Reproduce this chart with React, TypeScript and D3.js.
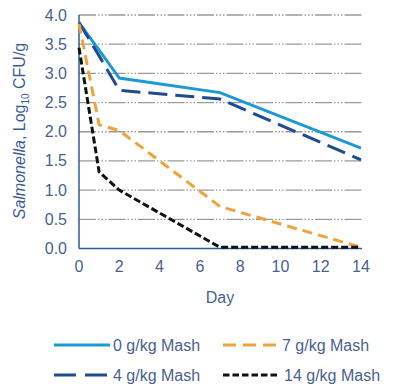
import React from "react";
import * as d3 from "d3";

const days = [0, 1, 2, 7, 14];
const series0 = [3.87, 3.4, 2.92, 2.67, 1.72];
const series4 = [3.87, 3.3, 2.71, 2.56, 1.52];
const series7 = [3.85, 2.12, 2.02, 0.72, 0.02];
const series14 = [3.44, 1.31, 1.0, 0.02, 0.02];
const xTicks = [0, 2, 4, 6, 8, 10, 12, 14];
const yTicks = [0, 0.5, 1, 1.5, 2, 2.5, 3, 3.5, 4];
const legendLabels = ["0 g/kg Mash", "4 g/kg Mash", "7 g/kg Mash", "14 g/kg Mash"];

const W = 400, H = 392;
const x = d3.scaleLinear().domain([0, 14]).range([79, 361]);
const y = d3.scaleLinear().domain([0, 4]).range([248.5, 15]);

const textColor = "#4a5f92";
const font = "'Liberation Sans', Arial, sans-serif";

const seriesDefs = [
  { data: series0, color: "#1d9ad6", dash: "none", legendDash: "none" },
  { data: series4, color: "#1f4b93", dash: "19,8", legendDash: "22,9" },
  { data: series7, color: "#f2a23a", dash: "10,6", legendDash: "13,7" },
  { data: series14, color: "#111111", dash: "7,3", legendDash: "6.5,3" },
];

export default function App() {
  const line = d3.line<[number, number]>().x(d => x(d[0])).y(d => y(d[1]));
  const legendPos = [
    { x1: 54, y: 345 },
    { x1: 54, y: 375 },
    { x1: 223, y: 345 },
    { x1: 223, y: 375 },
  ];
  return (
    <svg width={W} height={H} style={{ position: "absolute", left: 0, top: 0, background: "#fff" }}>
      {yTicks.slice(1).map(t => (
        <line key={t} x1={x(0)} x2={x(14) + 2} y1={y(t)} y2={y(t)} stroke="#9a9a9a" strokeWidth={1.3}
          strokeDasharray="17,2,1.5,2,1.5,2,1.5,2" />
      ))}
      <line x1={x(0)} x2={x(0)} y1={y(4)} y2={y(0)} stroke="#2a5a9e" strokeWidth={1.5} />
      <line x1={x(0)} x2={x(14) + 1} y1={y(0)} y2={y(0)} stroke="#2a5a9e" strokeWidth={1.5} />
      {seriesDefs.map((s, i) => (
        <path key={i} d={line(days.map((d, j) => [d, s.data[j]] as [number, number])) || ""}
          fill="none" stroke={s.color} strokeWidth={3} strokeDasharray={s.dash} />
      ))}
      {yTicks.map(t => (
        <text key={t} x={67} y={y(t) + 5.5} textAnchor="end" fontFamily={font} fontSize={16} fill={textColor}>
          {t.toFixed(1)}
        </text>
      ))}
      {xTicks.map(t => (
        <text key={t} x={x(t)} y={272} textAnchor="middle" fontFamily={font} fontSize={16} fill={textColor}>
          {t}
        </text>
      ))}
      <text x={220} y={303} textAnchor="middle" fontFamily={font} fontSize={16} fill={textColor}>Day</text>
      <text transform="translate(25,131) rotate(-90)" textAnchor="middle" fontFamily={font} fontSize={16} fill="#3d5b9c">
        <tspan fontStyle="italic">Salmonella</tspan>, Log<tspan fontSize={10} dy={4}>10</tspan><tspan dy={-4}> CFU/g</tspan>
      </text>
      {seriesDefs.map((s, i) => (
        <g key={i}>
          <line x1={legendPos[i].x1} x2={legendPos[i].x1 + 56} y1={legendPos[i].y} y2={legendPos[i].y}
            stroke={s.color} strokeWidth={3} strokeDasharray={s.legendDash} />
          <text x={legendPos[i].x1 + (i === 3 ? 61 : 59)} y={legendPos[i].y + 5.5} fontFamily={font} fontSize={16} fill={textColor}>
            {legendLabels[i]}
          </text>
        </g>
      ))}
    </svg>
  );
}
